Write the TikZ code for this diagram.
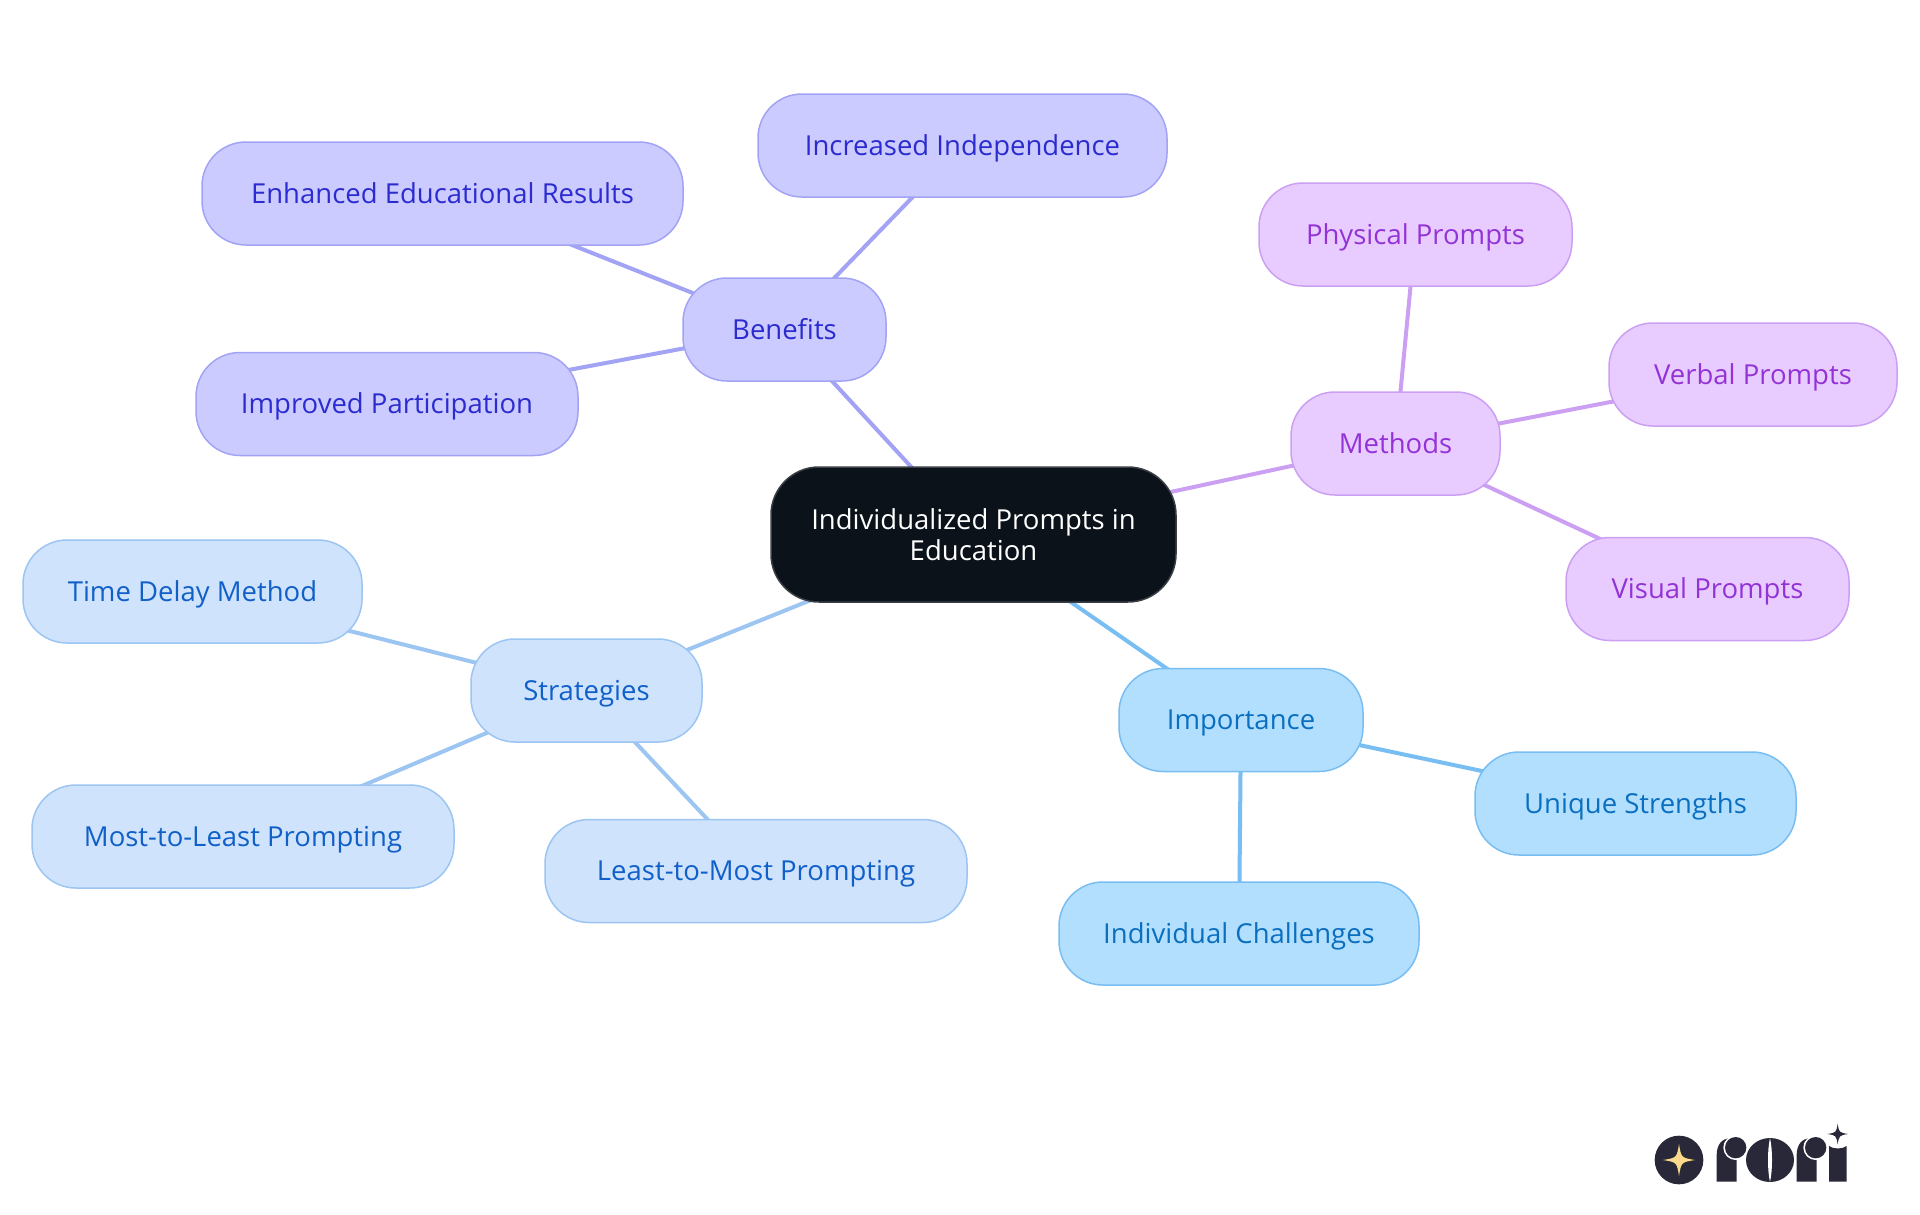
\documentclass[tikz,border=0pt]{standalone}
\usepackage{fontspec}
\setmainfont{Open Sans}
\usetikzlibrary{backgrounds}
\definecolor{benF}{HTML}{CBCBFF}\definecolor{benD}{HTML}{A3A3F5}\definecolor{benT}{HTML}{2B2BCF}
\definecolor{metF}{HTML}{E8CCFF}\definecolor{metD}{HTML}{CBA0F3}\definecolor{metT}{HTML}{9333D6}
\definecolor{impF}{HTML}{B3DFFF}\definecolor{impD}{HTML}{78BEF2}\definecolor{impT}{HTML}{0B6FBF}
\definecolor{strF}{HTML}{CFE3FD}\definecolor{strD}{HTML}{9CC5F2}\definecolor{strT}{HTML}{1160C8}
\definecolor{rootF}{HTML}{0B121A}\definecolor{rootD}{HTML}{3A3F46}
\definecolor{logoD}{HTML}{292838}\definecolor{logoS}{HTML}{FBD98B}
\tikzset{
  mm/.style={rounded corners=44pt,line width=1.5pt,align=center,inner sep=0pt,
    font=\fontsize{27.5}{31}\selectfont},
  leaf/.style={mm,text height=24pt,text depth=5pt},
  sized/.style n args={2}{minimum width=#1 pt,minimum height=#2 pt},
  ben/.style={leaf,draw=benD,fill=benF,text=benT},
  met/.style={leaf,draw=metD,fill=metF,text=metT},
  imp/.style={leaf,draw=impD,fill=impF,text=impT},
  str/.style={leaf,draw=strD,fill=strF,text=strT},
  root/.style={mm,rounded corners=48pt,draw=rootD,fill=rootF,text=white},
  linkline/.style={line width=4pt}
}
\newcommand{\fourstar}[4]{\fill[#1,shift={(#2,#3)},scale=#4]
  (0,-1) .. controls (.14,-.14) .. (1,0) .. controls (.14,.14) .. (0,1)
  .. controls (-.14,.14) .. (-1,0) .. controls (-.14,-.14) .. (0,-1) -- cycle;}
\newcommand{\logor}[1]{%
  \fill[logoD,shift={(#1,0)}] (290,245) -- (290,165) .. controls (290,135) and (305,115) .. (330,115)
    -- (350,115) -- (350,245) -- cycle;
  \fill[white,shift={(#1,0)}] (347,143) circle[radius=37];
  \fill[logoD,shift={(#1,0)}] (347,143) circle[radius=32];}
\begin{document}
\begin{tikzpicture}[x=1pt,y=-1pt]
\useasboundingbox (0,0) rectangle (1920,1215);
\node[root,sized={405}{135}] (root) at (973.5,534.5) {Individualized Prompts in\\Education};
\node[ben,sized={203}{103}] (benefits) at (784.5,329.5) {Benefits};
\node[ben,sized={409}{103}] (indep) at (962.5,145.5) {Increased Independence};
\node[ben,sized={481}{103}] (results) at (442.5,193.5) {Enhanced Educational Results};
\node[ben,sized={382}{103}] (particip) at (387,404) {Improved Participation};
\node[met,sized={209}{103}] (methods) at (1395.5,443.5) {Methods};
\node[met,sized={313}{103}] (physical) at (1415.5,234.5) {Physical Prompts};
\node[met,sized={288}{103}] (verbal) at (1753,374.5) {Verbal Prompts};
\node[met,sized={283}{103}] (visual) at (1707.5,589) {Visual Prompts};
\node[imp,sized={244}{103}] (importance) at (1241,720) {Importance};
\node[imp,sized={321}{103}] (unique) at (1635.5,803.5) {Unique Strengths};
\node[imp,sized={360}{103}] (challenges) at (1239,933.5) {Individual Challenges};
\node[str,sized={231}{103}] (strategies) at (586.5,690.5) {Strategies};
\node[str,sized={339}{103}] (delay) at (192.5,591.5) {Time Delay Method};
\node[str,sized={422}{103}] (mostleast) at (243,836.5) {Most-to-Least Prompting};
\node[str,sized={422}{103}] (leastmost) at (756,871) {Least-to-Most Prompting};
\begin{scope}[on background layer]
  \fill[white] (0,0) rectangle (1920,1215);
  \draw[linkline,benD] (root.center) -- (benefits.center);
  \draw[linkline,benD] (benefits.center) -- (indep.center);
  \draw[linkline,benD] (benefits.center) -- (results.center);
  \draw[linkline,benD] (benefits.center) -- (particip.center);
  \draw[linkline,metD] (root.center) -- (methods.center);
  \draw[linkline,metD] (methods.center) -- (physical.center);
  \draw[linkline,metD] (methods.center) -- (verbal.center);
  \draw[linkline,metD] (methods.center) -- (visual.center);
  \draw[linkline,impD] (root.center) -- (importance.center);
  \draw[linkline,impD] (importance.center) -- (unique.center);
  \draw[linkline,impD] (importance.center) -- (challenges.center);
  \draw[linkline,strD] (root.center) -- (strategies.center);
  \draw[linkline,strD] (strategies.center) -- (delay.center);
  \draw[linkline,strD] (strategies.center) -- (mostleast.center);
  \draw[linkline,strD] (strategies.center) -- (leastmost.center);
\end{scope}
% logo
\begin{scope}[shift={(1620,1100)},scale=1/3]
  \fill[logoD] (177,180) circle[radius=73];
  \fourstar{logoS}{177}{180}{48}
  \logor{0}
  \logor{240}
  \fill[logoD] (450,180) ellipse[x radius=72,y radius=66];
  \fill[white] (450,114) .. controls (442,150) and (442,210) .. (450,246)
     .. controls (458,210) and (458,150) .. (450,114) -- cycle;
  \fill[logoD] (627,245) -- (627,138) .. controls (640,148) and (667,148) .. (680,138) -- (680,245) -- cycle;
  \fourstar{logoD}{653}{102}{31}
\end{scope}
\end{tikzpicture}
\end{document}
